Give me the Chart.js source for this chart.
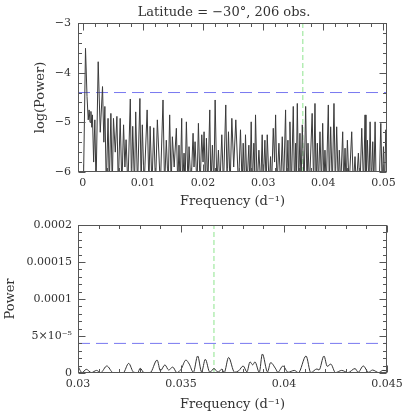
<!DOCTYPE html>
<html>
<head>
<meta charset="utf-8">
<script src="https://cdn.jsdelivr.net/npm/chart.js@4/dist/chart.umd.min.js"></script>
<style>
  html, body { margin: 0; padding: 0; background: #fff; }
  canvas { display: block; }
</style>
</head>
<body>
<canvas id="topChart" width="407" height="209"></canvas>
<canvas id="bottomChart" width="407" height="206"></canvas>
<script>
// top panel: log power vs frequency (d^-1), peaks and troughs
const topFreq = [
  0.0001, 0.00045, 0.0007, 0.0009, 0.00105, 0.0012, 0.00135, 0.0015, 0.0016, 0.0018,
  0.0020, 0.0022, 0.00256, 0.0029, 0.00328, 0.0035, 0.00367, 0.0039, 0.0042, 0.0044,
  0.00467, 0.0049, 0.0051, 0.0054, 0.00567, 0.0059, 0.00622, 0.0065, 0.00678, 0.0070,
  0.0072, 0.0075, 0.0079, 0.0081, 0.0083, 0.0086, 0.0088, 0.0091, 0.0095, 0.0097,
  0.0099, 0.0102, 0.0107, 0.0110, 0.0112, 0.0115, 0.0118, 0.0121, 0.0124, 0.0129,
  0.01334, 0.0136, 0.01389, 0.0142, 0.01445, 0.0147, 0.0149, 0.0152, 0.01556, 0.0158,
  0.0160, 0.0162, 0.01645, 0.0166, 0.01684, 0.0170, 0.01723, 0.0175, 0.01767, 0.0180,
  0.01834, 0.0185, 0.01867, 0.0190, 0.01923, 0.0195, 0.01979, 0.0200, 0.02017, 0.0204,
  0.02056, 0.0208, 0.02112, 0.0213, 0.02156, 0.0218, 0.02201, 0.0223, 0.02256, 0.0228,
  0.02312, 0.0234, 0.02378, 0.0240, 0.02423, 0.0245, 0.02479, 0.0251, 0.02545, 0.0259,
  0.02623, 0.0265, 0.02668, 0.0269, 0.02706, 0.0273, 0.02762, 0.0278, 0.02801, 0.0282,
  0.02845, 0.0286, 0.02873, 0.0290, 0.02929, 0.0296, 0.02984, 0.0300, 0.03029, 0.0305,
  0.03068, 0.0310, 0.03123, 0.0314, 0.03168, 0.0319, 0.03207, 0.0323, 0.03262, 0.0329,
  0.03318, 0.0334, 0.03373, 0.0339, 0.03412, 0.0343, 0.03445, 0.0347, 0.03501, 0.0352,
  0.0354, 0.0355, 0.03568, 0.0359, 0.03612, 0.0363, 0.03651, 0.0368, 0.03707, 0.0373,
  0.03746, 0.0377, 0.03815, 0.0384, 0.03862, 0.0388, 0.03901, 0.0392, 0.03945, 0.0397,
  0.0399, 0.0401, 0.04028, 0.0405, 0.04084, 0.0410, 0.04123, 0.0415, 0.04178, 0.0420,
  0.04223, 0.0425, 0.04267, 0.0429, 0.04323, 0.0434, 0.04362, 0.0438, 0.04401, 0.0443,
  0.04473, 0.0450, 0.04528, 0.0455, 0.04584, 0.0461, 0.0464, 0.0467, 0.04695, 0.0471,
  0.04734, 0.0476, 0.04779, 0.0480, 0.04823, 0.0484, 0.04862, 0.0488, 0.0493, 0.04957,
  0.0498, 0.05001, 0.0502, 0.0504, 0.0506
];
const topLogPower = [
  -6.3, -3.51, -4.48, -4.95, -4.75, -5.0, -4.78, -5.1, -4.85, -5.8,
  -4.95, -6.3, -3.78, -5.2, -4.28, -5.4, -4.68, -6.3, -4.92, -6.3,
  -4.82, -6.3, -4.92, -5.6, -4.88, -6.3, -4.92, -6.3, -5.05, -5.9,
  -5.35, -6.3, -4.53, -6.3, -5.08, -6.3, -4.79, -6.3, -4.52, -6.3,
  -5.05, -6.3, -4.75, -6.3, -5.08, -6.3, -5.11, -6.3, -4.95, -6.3,
  -4.55, -6.3, -5.36, -6.3, -4.85, -6.3, -5.29, -5.9, -5.12, -6.3,
  -5.46, -6.3, -4.92, -6.3, -5.62, -6.3, -4.99, -6.3, -5.49, -6.3,
  -5.22, -5.9, -5.39, -6.3, -5.02, -6.3, -5.25, -5.8, -5.19, -6.3,
  -5.32, -6.3, -4.75, -6.3, -5.46, -6.3, -4.55, -6.3, -5.56, -6.3,
  -5.25, -6.3, -4.65, -6.3, -5.19, -6.3, -4.92, -5.9, -4.95, -6.3,
  -5.15, -6.3, -5.42, -6.3, -5.25, -6.3, -5.46, -6.3, -4.99, -6.3,
  -5.42, -6.0, -4.85, -6.3, -5.56, -6.3, -5.25, -6.3, -5.36, -6.3,
  -5.25, -6.3, -5.69, -6.3, -5.12, -5.8, -4.85, -6.3, -5.42, -6.3,
  -5.29, -6.3, -4.75, -6.3, -5.36, -6.3, -4.99, -6.3, -4.68, -6.3,
  -5.42, -6.3, -4.62, -6.3, -5.22, -6.3, -5.05, -6.3, -4.68, -6.3,
  -5.42, -6.3, -4.82, -6.3, -4.62, -6.3, -5.42, -6.3, -5.19, -6.3,
  -5.02, -6.3, -5.56, -6.3, -4.65, -6.3, -5.09, -6.3, -4.62, -6.3,
  -5.09, -6.3, -5.56, -6.3, -5.19, -6.3, -5.52, -6.3, -5.36, -6.3,
  -5.19, -6.3, -5.69, -6.3, -5.62, -6.3, -5.12, -6.3, -4.85, -6.3,
  -5.36, -6.3, -4.99, -6.3, -5.39, -6.3, -4.99, -6.3, -6.3, -5.02,
  -6.3, -5.49, -6.3, -5.15, -5.7
];

// bottom panel: linear power, zoom on 0.03 - 0.045 d^-1
const bottomFreq = [
  0.0300, 0.0302, 0.0304, 0.03065, 0.0309, 0.0311, 0.0314, 0.0317, 0.0320, 0.0322,
  0.03246, 0.0327, 0.0329, 0.03302, 0.0332, 0.0335, 0.03384, 0.0340, 0.03422, 0.0344,
  0.0346, 0.0348, 0.0350, 0.03524, 0.0354, 0.0356, 0.03581, 0.0360, 0.03618, 0.0364,
  0.0366, 0.0368, 0.03697, 0.0371, 0.03731, 0.0376, 0.0378, 0.03802, 0.0382, 0.03835,
  0.03848, 0.03859, 0.0388, 0.03895, 0.0392, 0.03935, 0.0396, 0.0397, 0.03995, 0.0402,
  0.0405, 0.0407, 0.04107, 0.0413, 0.0416, 0.0417, 0.04194, 0.0421, 0.04227, 0.0425,
  0.0428, 0.0431, 0.04345, 0.0436, 0.04385, 0.0441, 0.0443, 0.0446, 0.0448, 0.0450
];
const bottomPower = [
  0.9e-5, 0.05e-5, 0.5e-5, 0.05e-5, 0.35e-5, 0.05e-5, 0.95e-5, 0.05e-5, 0.02e-5, 0.05e-5,
  1.3e-5, 0.1e-5, 0.05e-5, 0.65e-5, 0.05e-5, 0.05e-5, 1.75e-5, 0.3e-5, 1.1e-5, 0.4e-5,
  0.8e-5, 0.05e-5, 0.5e-5, 1.75e-5, 1.2e-5, 0.1e-5, 2.3e-5, 0.15e-5, 1.85e-5, 0.1e-5,
  0.6e-5, 0.1e-5, 0.5e-5, 0.1e-5, 2.1e-5, 0.1e-5, 0.3e-5, 0.95e-5, 0.15e-5, 1.5e-5,
  1.1e-5, 1.5e-5, 0.1e-5, 2.57e-5, 0.15e-5, 1.4e-5, 0.55e-5, 0.1e-5, 0.95e-5, 0.1e-5,
  0.35e-5, 0.05e-5, 2.3e-5, 0.05e-5, 0.55e-5, 0.4e-5, 2.3e-5, 0.9e-5, 1.2e-5, 0.05e-5,
  0.35e-5, 0.05e-5, 0.6e-5, 0.1e-5, 0.95e-5, 0.1e-5, 0.4e-5, 0.05e-5, 0.35e-5, 0.3e-5
];

const noiseLogPower = -4.4;
const noisePower = 4e-5;
const rotationFreq = 0.0366;

const topXTicks = [0, 0.01, 0.02, 0.03, 0.04, 0.05];
const topXLabels = ['0', '0.01', '0.02', '0.03', '0.04', '0.05'];
const topYTicks = [-6, -5, -4, -3];
const topYLabels = ['\u22126', '\u22125', '\u22124', '\u22123'];
const bottomXTicks = [0.03, 0.035, 0.04, 0.045];
const bottomXLabels = ['0.03', '0.035', '0.04', '0.045'];
const bottomYTicks = [0, 5e-5, 1e-4, 1.5e-4, 2e-4];
const bottomYLabels = ['0', '5\u00d710\u207b\u2075', '0.0001', '0.00015', '0.0002'];

const FONT = "'DejaVu Serif', serif";
const INK = '#333';

// box round the plot with inward ticks on all four sides
const framePlugin = {
  id: 'frame',
  afterDatasetsDraw(chart, args, opts) {
    const { ctx, chartArea: a, scales: { x, y } } = chart;
    const L = Math.round(a.left) + 0.5, R = Math.round(a.right) - 0.5;
    const T = Math.round(a.top) + 0.5, B = Math.round(a.bottom) - 0.5;
    ctx.save();
    ctx.strokeStyle = '#555';
    ctx.lineWidth = 1;
    ctx.beginPath();
    const marks = (scale, majors, step, horiz) => {
      const k0 = Math.ceil(scale.min / step - 1e-6), k1 = Math.floor(scale.max / step + 1e-6);
      for (let k = k0; k <= k1; k++) {
        const v = k * step;
        const len = majors.some(m => Math.abs(m - v) < step / 10) ? 7 : 3.5;
        const p = Math.round(scale.getPixelForValue(v)) + 0.5;
        if (horiz) {
          ctx.moveTo(p, B); ctx.lineTo(p, B - len);
          ctx.moveTo(p, T); ctx.lineTo(p, T + len);
        } else {
          ctx.moveTo(L, p); ctx.lineTo(L + len, p);
          ctx.moveTo(R, p); ctx.lineTo(R - len, p);
        }
      }
    };
    marks(x, opts.xMajor, opts.xStep, true);
    marks(y, opts.yMajor, opts.yStep, false);
    ctx.stroke();
    ctx.strokeRect(L, T, R - L, B - T);
    ctx.restore();
  }
};

const captionPlugin = {
  id: 'caption',
  afterDraw(chart, args, opts) {
    if (!opts.text) return;
    const { ctx } = chart;
    ctx.save();
    ctx.font = '13px ' + FONT;
    ctx.fillStyle = INK;
    ctx.textAlign = 'center';
    ctx.textBaseline = 'middle';
    ctx.fillText(opts.text, opts.x, opts.y);
    ctx.restore();
  }
};

function axis(opts) {
  return {
    type: 'linear',
    min: opts.min,
    max: opts.max,
    afterBuildTicks: s => { s.ticks = opts.ticks.map(v => ({ value: v })); },
    afterFit: s => {
      if (opts.width) s.width = opts.width;
      if (opts.height) s.height = opts.height;
      s.paddingLeft = 0; s.paddingRight = 0; s.paddingTop = 0; s.paddingBottom = 0;
    },
    grid: { display: false, drawTicks: false },
    border: { display: false },
    ticks: {
      autoSkip: false,
      maxRotation: 0,
      padding: opts.pad,
      color: INK,
      font: { family: FONT, size: 11 },
      callback: (v, i) => opts.labels[i]
    },
    title: {
      display: true,
      text: opts.title,
      color: INK,
      font: { family: FONT, size: 13 },
      padding: opts.titlePad || 0
    }
  };
}

function lineSet(points, color, dash, tension) {
  return {
    data: points,
    borderColor: color,
    borderWidth: 1,
    borderDash: dash,
    pointRadius: 0,
    tension: tension,
    cubicInterpolationMode: tension ? 'monotone' : 'default'
  };
}

const topX = { min: -0.0008, max: 0.0506 };
const topY = { min: -6, max: -3 };

new Chart(document.getElementById('topChart'), {
  type: 'line',
  data: {
    datasets: [
      lineSet(topFreq.map((f, i) => ({ x: f, y: topLogPower[i] })), '#3a3a3a', [], 0),
      lineSet([{ x: topX.min, y: noiseLogPower }, { x: topX.max, y: noiseLogPower }], '#7878f0', [12, 6], 0),
      lineSet([{ x: rotationFreq, y: topY.min }, { x: rotationFreq, y: topY.max }], '#8ee48e', [5, 3], 0)
    ]
  },
  options: {
    responsive: false,
    animation: false,
    devicePixelRatio: 1,
    layout: { padding: { top: 23, left: 33, right: 20, bottom: 0 } },
    scales: {
      x: axis({ ...topX, ticks: topXTicks, labels: topXLabels, height: 37, pad: 5,
                title: 'Frequency (d\u207b\u00b9)' }),
      y: axis({ ...topY, ticks: topYTicks, labels: topYLabels, width: 45, pad: 7,
                title: 'log(Power)' })
    },
    plugins: {
      legend: { display: false },
      tooltip: { enabled: false },
      frame: { xMajor: topXTicks, xStep: 0.002, yMajor: topYTicks, yStep: 0.2 },
      caption: { text: 'Latitude = \u221230\u00b0, 206 obs.', x: 224, y: 13 }
    }
  },
  plugins: [framePlugin, captionPlugin]
});

const botX = { min: 0.03, max: 0.045 };
const botY = { min: 0, max: 2e-4 };

new Chart(document.getElementById('bottomChart'), {
  type: 'line',
  data: {
    datasets: [
      lineSet(bottomFreq.map((f, i) => ({ x: f, y: bottomPower[i] })), INK, [], 0.4),
      lineSet([{ x: botX.min, y: noisePower }, { x: botX.max, y: noisePower }], '#7878f0', [12, 6], 0),
      lineSet([{ x: rotationFreq, y: botY.min }, { x: rotationFreq, y: botY.max }], '#8ee48e', [5, 3], 0)
    ]
  },
  options: {
    responsive: false,
    animation: false,
    devicePixelRatio: 1,
    layout: { padding: { top: 16, left: 3, right: 20, bottom: 0 } },
    scales: {
      x: axis({ ...botX, ticks: bottomXTicks, labels: bottomXLabels, height: 42, pad: 5,
                title: 'Frequency (d\u207b\u00b9)', titlePad: { bottom: 3 } }),
      y: axis({ ...botY, ticks: bottomYTicks, labels: bottomYLabels, width: 75, pad: 6,
                title: 'Power' })
    },
    plugins: {
      legend: { display: false },
      tooltip: { enabled: false },
      frame: { xMajor: bottomXTicks, xStep: 0.001, yMajor: bottomYTicks, yStep: 1e-5 },
      caption: { text: '' }
    }
  },
  plugins: [framePlugin, captionPlugin]
});
</script>
</body>
</html>
